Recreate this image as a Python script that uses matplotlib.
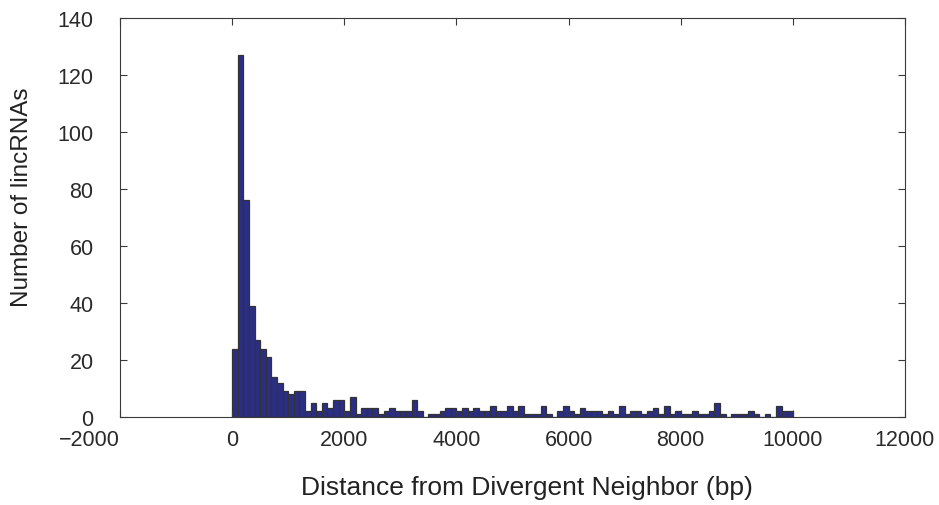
import numpy as np
import matplotlib
matplotlib.use("Agg")
import matplotlib.pyplot as plt

# Histogram data: 100 bins of 100 bp from 0 to 10000
bin_edges = list(range(0, 10001, 100))
counts = [24, 127, 76, 39, 27, 24, 21, 14, 12, 9,
          8, 9, 9, 2, 5, 2, 5, 3, 6, 6,
          2, 7, 1, 3, 3, 3, 1, 2, 3, 2,
          2, 2, 6, 2, 0, 1, 1, 2, 3, 3,
          2, 3, 2, 3, 2, 2, 4, 2, 2, 4,
          2, 4, 1, 1, 1, 4, 1, 0, 2, 4,
          2, 1, 3, 2, 2, 2, 1, 2, 1, 4,
          1, 2, 2, 1, 2, 3, 1, 4, 1, 2,
          1, 1, 2, 1, 1, 2, 5, 1, 0, 1,
          1, 1, 2, 1, 0, 1, 0, 4, 2, 2]
x_ticks = [-2000, 0, 2000, 4000, 6000, 8000, 10000, 12000]
x_tick_labels = ["\u22122000", "0", "2000", "4000", "6000", "8000", "10000", "12000"]
y_ticks = [0, 20, 40, 60, 80, 100, 120, 140]

plt.rcParams["font.family"] = ["Liberation Sans", "DejaVu Sans"]

fig = plt.figure(figsize=(9.39, 5.06), dpi=100)
ax = fig.add_axes([120/939, 1-418/506, (905-120)/939, (418-19)/506])

edges = np.array(bin_edges)
ax.bar(edges[:-1], counts, width=np.diff(edges), align="edge",
       facecolor="#2a2e86", edgecolor="#333333", linewidth=0.9)

ax.set_xlim(-2000, 12000)
ax.set_ylim(0, 140)
ax.set_xticks(x_ticks)
ax.set_xticklabels(x_tick_labels)
ax.set_yticks(y_ticks)

ax.tick_params(axis="both", direction="in", length=5, width=0.8,
               top=True, right=True, labelsize=15.5, colors="#3a3a3a",
               labelcolor="#2a2a2a")
ax.tick_params(axis="y", pad=19)
ax.tick_params(axis="x", pad=8.5)
# first x label sits flush left of the axes corner, as in the reference
ax.get_xticklabels()[0].set_ha("right")
for s in ax.spines.values():
    s.set_color("#3a3a3a")
    s.set_linewidth(0.8)

ax.set_xlabel("Distance from Divergent Neighbor (bp)", fontsize=19,
              color="#222222")
ax.xaxis.label.set_va("center")
ax.xaxis.set_label_coords(0.5185, -0.1754)
ax.set_ylabel("Number of lincRNAs", fontsize=17.5, color="#222222")
ax.yaxis.label.set_va("center")
ax.yaxis.set_label_coords(-0.1248, 0.553)

fig.savefig("out.png", dpi=100)
